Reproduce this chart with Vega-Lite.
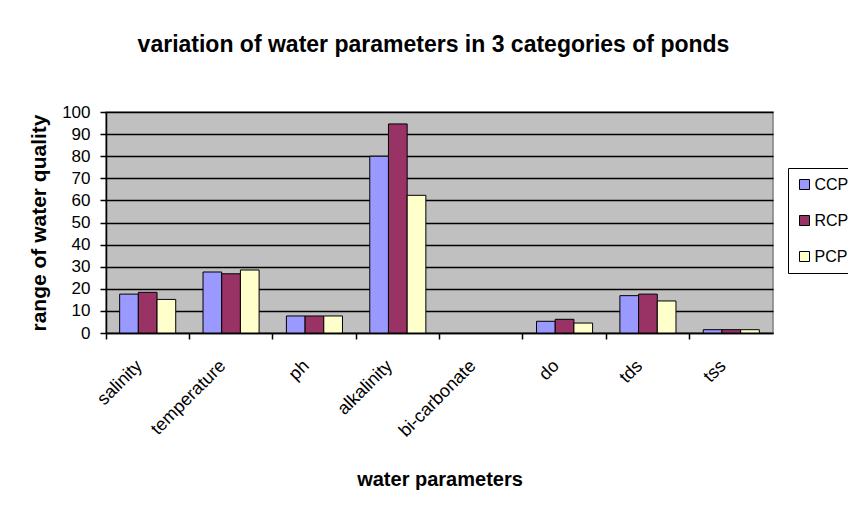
{
  "$schema": "https://vega.github.io/schema/vega-lite/v6.json",
  "width": 667,
  "height": 221,
  "autosize": {"type": "none"},
  "padding": {"left": 106, "top": 112, "right": 75, "bottom": 182},
  "background": "white",
  "config": {
    "font": "Liberation Sans",
    "view": {"fill": "#C0C0C0", "stroke": "#808080", "strokeWidth": 1.5}
  },
  "title": {
    "text": "variation of water parameters in 3 categories of ponds",
    "font": "Liberation Sans",
    "fontSize": 23,
    "fontWeight": "bold",
    "color": "black",
    "anchor": "middle",
    "offset": 46,
    "dx": -6
  },
  "data": {
    "values": [
      {"parameter": "salinity", "pond": "CCP", "value": 17.6},
      {"parameter": "salinity", "pond": "RCP", "value": 18.4},
      {"parameter": "salinity", "pond": "PCP", "value": 15.2},
      {"parameter": "temperature", "pond": "CCP", "value": 27.6},
      {"parameter": "temperature", "pond": "RCP", "value": 26.8},
      {"parameter": "temperature", "pond": "PCP", "value": 28.5},
      {"parameter": "ph", "pond": "CCP", "value": 7.7},
      {"parameter": "ph", "pond": "RCP", "value": 7.7},
      {"parameter": "ph", "pond": "PCP", "value": 7.7},
      {"parameter": "alkalinity", "pond": "CCP", "value": 80},
      {"parameter": "alkalinity", "pond": "RCP", "value": 94.6},
      {"parameter": "alkalinity", "pond": "PCP", "value": 62.3},
      {"parameter": "do", "pond": "CCP", "value": 5.3},
      {"parameter": "do", "pond": "RCP", "value": 6.2},
      {"parameter": "do", "pond": "PCP", "value": 4.5},
      {"parameter": "tds", "pond": "CCP", "value": 16.9},
      {"parameter": "tds", "pond": "RCP", "value": 17.6},
      {"parameter": "tds", "pond": "PCP", "value": 14.5},
      {"parameter": "tss", "pond": "CCP", "value": 1.5},
      {"parameter": "tss", "pond": "RCP", "value": 1.5},
      {"parameter": "tss", "pond": "PCP", "value": 1.5}
    ]
  },
  "mark": {"type": "bar", "stroke": "black", "strokeWidth": 1},
  "encoding": {
    "x": {
      "field": "parameter",
      "type": "nominal",
      "scale": {
        "domain": ["salinity", "temperature", "ph", "alkalinity", "bi-carbonate", "do", "tds", "tss"],
        "paddingInner": 0,
        "paddingOuter": 0
      },
      "axis": {
        "title": "water parameters",
        "titleFont": "Liberation Sans",
        "titleFontSize": 20,
        "titleFontWeight": "bold",
        "titleColor": "black",
        "titlePadding": 29,
        "bandPosition": 0,
        "labelAngle": -45,
        "labelAlign": "right",
        "labelBaseline": "middle",
        "labelFontSize": 18,
        "labelColor": "black",
        "labelPadding": 24,
        "labelOffset": -8,
        "domainColor": "black",
        "domainWidth": 1.5,
        "tickColor": "black",
        "tickWidth": 1.5,
        "tickSize": 6,
        "grid": false
      }
    },
    "xOffset": {
      "field": "pond",
      "type": "nominal",
      "scale": {"domain": ["CCP", "RCP", "PCP"], "paddingInner": 0, "paddingOuter": 0.73}
    },
    "y": {
      "field": "value",
      "type": "quantitative",
      "scale": {"domain": [0, 100], "nice": false},
      "axis": {
        "title": "range of water quality",
        "titleFont": "Liberation Sans",
        "titleFontSize": 21,
        "titleFontWeight": "bold",
        "titleColor": "black",
        "titlePadding": 12,
        "values": [0, 10, 20, 30, 40, 50, 60, 70, 80, 90, 100],
        "labelFontSize": 17,
        "labelColor": "black",
        "labelPadding": 10,
        "domainColor": "black",
        "domainWidth": 1.5,
        "tickColor": "black",
        "tickWidth": 1.5,
        "tickSize": 6,
        "grid": true,
        "gridColor": "black",
        "gridWidth": 1.3
      }
    },
    "color": {
      "field": "pond",
      "type": "nominal",
      "scale": {"domain": ["CCP", "RCP", "PCP"], "range": ["#9999FF", "#993366", "#FFFFCC"]},
      "legend": {
        "title": null,
        "orient": "none",
        "legendX": 682,
        "legendY": 56,
        "direction": "vertical",
        "strokeColor": "black",
        "fillColor": "white",
        "padding": 8.5,
        "symbolType": "square",
        "symbolSize": 100,
        "symbolStrokeColor": "black",
        "symbolStrokeWidth": 1,
        "labelFontSize": 16,
        "labelColor": "black",
        "labelOffset": 2,
        "rowPadding": 20
      }
    }
  }
}
